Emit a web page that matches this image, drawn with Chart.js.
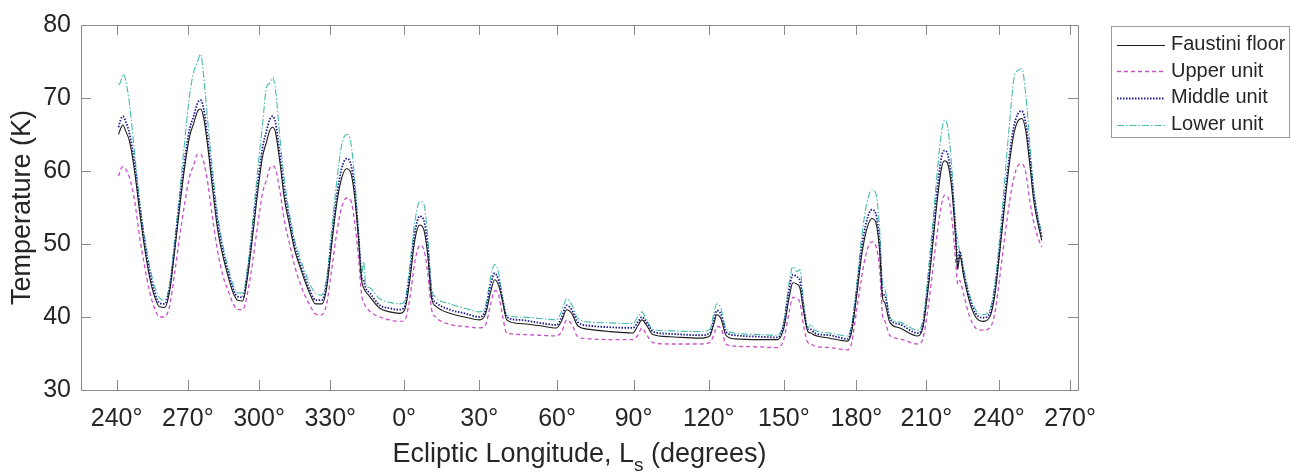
<!DOCTYPE html>
<html>
<head>
<meta charset="utf-8">
<script src="https://cdn.jsdelivr.net/npm/chart.js@4.4.1/dist/chart.umd.min.js"></script>
<style>
html, body { margin: 0; padding: 0; background: #fff; }
#wrap { width: 1298px; height: 474px; position: relative; }
</style>
</head>
<body>
<div id="wrap"><canvas id="tempChart"></canvas></div>
<script>
// time axis in sols since start; ticks mark Ls values (non-linear in time)
const SOLS = [
  1.5, 3.0, 4.8, 6.8, 9.9, 13.6, 17.4, 21.2, 25.0, 28.8,
  32.6, 36.4, 40.2, 44.0, 47.8, 51.6, 55.4, 58.4, 61.4, 63.7,
  66.0, 69.0, 72.8, 76.6, 80.4, 84.2, 88.0, 91.8, 95.6, 99.3,
  103.1, 106.9, 110.7, 113.7, 116.0, 118.3, 120.6, 123.6, 127.4, 131.2,
  135.0, 138.8, 142.6, 146.3, 150.9, 155.5, 159.3, 163.1, 166.9, 170.6,
  174.4, 177.5, 180.5, 183.5, 185.8, 187.3, 188.8, 191.9, 199.5, 207.1,
  214.7, 218.5, 222.3, 226.1, 229.8, 232.9, 235.9, 238.9, 242.0, 252.6,
  264.0, 275.3, 279.9, 283.7, 286.7, 289.7, 292.8, 295.8, 305.7, 320.9,
  333.7, 337.5, 341.3, 345.1, 349.7, 358.8, 374.0, 391.4, 395.2, 398.3,
  402.1, 406.6, 419.5, 442.2, 449.8, 452.8, 455.1, 458.2, 462.0, 468.8,
  487.8, 501.4, 506.0, 509.8, 512.8, 515.9, 518.1, 521.2, 524.2, 526.5,
  529.3, 540.7, 554.4, 557.4, 561.2, 565.0, 568.8, 572.6, 575.6, 578.6,
  580.9, 582.4, 586.2, 593.8, 607.5, 611.3, 615.1, 618.9, 622.6, 625.6,
  627.9, 630.2, 633.3, 636.3, 637.8, 639.3, 642.4, 646.9, 651.4, 656.8,
  662.1, 665.9, 669.7, 673.5, 677.3, 680.3, 683.3, 686.4, 689.4, 692.4,
  695.4, 698.4, 701.5
];
const FAUSTINI_FLOOR = [
  65.0, 65.8, 66.3, 65.5, 64.0, 60.0, 54.5, 49.5, 45.5, 42.8,
  41.4, 41.3, 43.5, 49.0, 55.0, 60.5, 64.8, 66.5, 68.2, 68.5,
  67.3, 63.5, 57.5, 52.0, 48.5, 45.8, 43.5, 42.3, 42.2, 45.5,
  51.0, 57.0, 62.0, 64.0, 65.5, 66.0, 65.2, 61.5, 56.0, 52.5,
  49.2, 47.0, 45.0, 43.3, 41.8, 41.8, 44.0, 50.0, 55.5, 59.0,
  60.3, 59.8, 56.5, 50.5, 45.0, 44.0, 43.5, 42.8, 41.2, 40.7,
  40.5, 41.0, 45.0, 50.5, 52.6, 52.0, 48.5, 42.5, 41.5, 40.5,
  40.0, 39.6, 40.5, 43.5, 45.1, 44.3, 42.0, 39.6, 39.1, 38.8,
  38.5, 39.5, 41.0, 40.5, 38.8, 38.3, 38.0, 37.8, 38.8, 39.6,
  38.8, 37.6, 37.3, 37.1, 37.4, 39.0, 40.3, 39.8, 37.5, 37.0,
  36.9, 36.9, 38.5, 42.5, 44.7, 44.5, 44.0, 40.5, 38.0, 37.8,
  37.5, 37.1, 36.7, 38.0, 43.0, 48.5, 52.0, 53.5, 53.0, 49.0,
  42.5, 42.0, 39.3, 38.5, 37.4, 38.5, 43.5, 50.0, 56.5, 60.5,
  61.4, 61.0, 57.5, 50.5, 46.5, 48.5, 45.5, 42.0, 40.0, 39.4,
  40.0, 43.0, 49.0, 55.5, 61.5, 65.0, 66.8, 67.2, 65.5, 61.0,
  56.0, 53.0, 50.5
];
const UPPER_UNIT = [
  59.3, 60.2, 60.6, 60.3, 59.0, 56.0, 51.0, 47.0, 43.5, 41.2,
  40.0, 40.0, 41.5, 46.0, 51.0, 55.5, 59.3, 60.8, 62.3, 62.3,
  61.3, 58.5, 53.5, 49.0, 45.8, 43.8, 42.0, 41.0, 41.0, 43.3,
  47.5, 52.5, 57.0, 58.8, 60.3, 60.7, 60.2, 57.5, 53.0, 50.0,
  47.0, 44.8, 43.0, 41.7, 40.4, 40.3, 41.8, 46.5, 51.5, 55.0,
  56.3, 56.0, 53.0, 48.0, 43.0, 42.0, 41.5, 40.8, 40.0, 39.6,
  39.4, 39.6, 42.5, 47.5, 49.8, 49.3, 46.0, 41.0, 40.0, 39.0,
  38.7, 38.5, 39.0, 41.8, 43.6, 43.0, 40.0, 37.8, 37.6, 37.5,
  37.4, 38.0, 39.6, 39.0, 37.3, 37.0, 36.9, 36.9, 37.5, 38.5,
  37.5, 36.5, 36.3, 36.3, 36.5, 37.5, 38.7, 38.5, 36.3, 36.0,
  35.9, 35.8, 37.0, 40.5, 42.7, 42.5, 42.0, 38.5, 36.5, 36.3,
  36.0, 35.8, 35.5, 36.5, 41.0, 45.5, 49.0, 50.3, 49.8, 46.5,
  40.0, 39.5, 37.5, 37.0, 36.3, 37.0, 41.0, 46.5, 52.0, 55.5,
  56.7, 56.5, 53.5, 47.5, 44.5, 45.0, 43.0, 40.0, 38.5, 38.2,
  38.5, 40.5, 45.5, 51.0, 56.0, 59.0, 60.7, 61.0, 59.8, 56.0,
  53.0, 51.0, 49.6
];
const MIDDLE_UNIT = [
  66.0, 67.0, 67.5, 66.8, 65.0, 61.0, 55.3, 50.3, 46.2, 43.4,
  41.9, 41.8, 44.0, 49.5, 55.8, 61.5, 65.8, 67.5, 69.3, 69.7,
  68.5, 64.5, 58.5, 53.0, 49.2, 46.4, 44.0, 42.8, 42.7, 46.0,
  51.7, 58.0, 63.2, 65.5, 67.0, 67.5, 66.5, 62.5, 57.0, 53.2,
  49.8, 47.5, 45.5, 43.8, 42.3, 42.3, 44.5, 50.5, 56.5, 60.3,
  61.7, 61.0, 57.5, 51.0, 45.5, 45.0, 44.0, 43.3, 41.6, 41.2,
  41.0, 41.5, 45.8, 51.5, 53.8, 53.3, 49.5, 43.0, 42.0, 41.0,
  40.5, 40.0, 41.0, 44.5, 46.0, 45.0, 42.3, 40.0, 39.6, 39.2,
  38.9, 40.0, 41.6, 41.0, 39.3, 38.8, 38.6, 38.5, 39.3, 40.0,
  39.2, 38.0, 37.7, 37.5, 37.8, 39.5, 40.9, 40.4, 38.0, 37.5,
  37.3, 37.2, 39.0, 43.5, 45.8, 45.5, 45.0, 41.0, 38.3, 38.3,
  37.8, 37.5, 37.0, 38.5, 43.5, 49.5, 53.2, 54.7, 54.2, 50.0,
  43.0, 43.0, 39.8, 39.0, 37.8, 38.8, 44.0, 51.0, 58.0, 62.0,
  62.8, 62.3, 58.5, 51.5, 47.0, 49.0, 46.0, 42.5, 40.5, 39.9,
  40.5, 43.5, 49.5, 56.5, 62.5, 66.0, 67.8, 68.2, 66.5, 62.0,
  57.0, 53.5, 51.0
];
const LOWER_UNIT = [
  71.8, 72.2, 73.3, 72.5, 69.0, 62.5, 56.0, 51.0, 47.0, 44.2,
  42.6, 42.3, 44.5, 50.5, 57.0, 64.0, 70.5, 73.5, 75.0, 76.0,
  73.0, 67.0, 60.0, 54.0, 50.0, 47.0, 44.6, 43.3, 43.3, 46.8,
  53.0, 60.0, 66.5, 71.5, 72.0, 72.8, 71.0, 65.0, 58.5, 54.0,
  50.5, 48.3, 46.3, 44.6, 43.2, 43.0, 45.5, 52.0, 58.5, 63.5,
  65.0, 64.0, 59.0, 51.5, 45.8, 47.6, 44.5, 44.0, 42.5, 42.0,
  41.8, 42.2, 47.0, 53.0, 55.8, 55.5, 51.0, 44.0, 42.7, 41.8,
  41.2, 40.7, 41.7, 45.5, 47.2, 46.0, 42.5, 40.3, 40.0, 39.8,
  39.6, 40.8, 42.5, 41.7, 39.8, 39.3, 39.2, 39.1, 40.0, 40.7,
  39.5, 38.3, 38.1, 38.0, 38.3, 40.5, 41.8, 41.2, 38.5, 37.8,
  37.6, 37.5, 39.5, 44.5, 46.9, 46.2, 46.5, 41.5, 38.5, 39.0,
  38.2, 37.8, 37.4, 39.0, 44.5, 51.0, 55.5, 57.4, 57.0, 52.0,
  44.5, 44.0, 40.0, 39.3, 38.2, 39.5, 45.5, 53.0, 60.5, 65.5,
  67.0, 66.0, 60.5, 52.0, 50.5, 49.0, 46.5, 43.0, 41.0, 40.3,
  41.0, 44.5, 51.0, 59.0, 67.0, 72.5, 73.8, 74.0, 70.5, 64.0,
  57.5, 54.0, 51.5
];
const TICK_SOLS = [0, 54, 108, 162, 218, 275, 334, 392, 449, 506, 561, 614, 669, 723];
const TICK_LABELS = ["240°", "270°", "300°", "330°", "0°", "30°", "60°", "90°", "120°", "150°", "180°", "210°", "240°", "270°"];
const SERIES_NAMES = ["Faustini floor", "Upper unit", "Middle unit", "Lower unit"];

const FONT = "'Liberation Sans', Arial, Helvetica, sans-serif";
const TEXT = "#262626";
const AXIS = "#8a8a8a";

function points(values) {
  return values.map((y, i) => ({ x: SOLS[i], y }));
}

function series(label, values, color, width, dash) {
  return {
    label, data: points(values), borderColor: color, backgroundColor: color,
    borderWidth: width, borderDash: dash, pointRadius: 0, fill: false,
    cubicInterpolationMode: "monotone"
  };
}

const frame = {
  id: "frame",
  afterDraw(chart) {
    const { ctx, chartArea: a, scales: { x, y } } = chart;
    ctx.save();
    ctx.strokeStyle = AXIS;
    ctx.lineWidth = 1;
    ctx.strokeRect(a.left + 0.5, a.top + 0.5, a.right - a.left, a.bottom - a.top);
    ctx.beginPath();
    TICK_SOLS.forEach((v) => {
      const px = Math.round(x.getPixelForValue(v)) + 0.5;
      ctx.moveTo(px, a.bottom); ctx.lineTo(px, a.bottom - 10);
      ctx.moveTo(px, a.top); ctx.lineTo(px, a.top + 10);
    });
    y.ticks.forEach((t) => {
      const py = Math.round(y.getPixelForValue(t.value)) + 0.5;
      ctx.moveTo(a.left, py); ctx.lineTo(a.left + 10, py);
      ctx.moveTo(a.right, py); ctx.lineTo(a.right - 10, py);
    });
    ctx.stroke();

    // x axis title with subscript s
    const big = `27px ${FONT}`, small = `19px ${FONT}`;
    const parts = [["Ecliptic Longitude, L", big, 0], ["s", small, 9], [" (degrees)", big, 0]];
    let total = 0;
    parts.forEach(([t, f]) => { ctx.font = f; total += ctx.measureText(t).width; });
    let cx = (a.left + a.right) / 2 - total / 2;
    ctx.fillStyle = TEXT;
    ctx.textBaseline = "alphabetic";
    ctx.textAlign = "left";
    parts.forEach(([t, f, dy]) => { ctx.font = f; ctx.fillText(t, cx, 462 + dy); cx += ctx.measureText(t).width; });

    // legend box
    const lx = a.right + 33, ly = a.top + 1, lw = 178, lh = 111;
    ctx.fillStyle = "#fff";
    ctx.fillRect(lx, ly, lw, lh);
    ctx.strokeStyle = "#9a9a9a";
    ctx.strokeRect(lx + 0.5, ly + 0.5, lw, lh);
    ctx.font = `20px ${FONT}`;
    ctx.textBaseline = "middle";
    chart.data.datasets.forEach((ds, i) => {
      const ry = ly + 18.5 + i * 26.7;
      ctx.beginPath();
      ctx.strokeStyle = ds.borderColor;
      ctx.lineWidth = ds.borderWidth;
      ctx.setLineDash(ds.borderDash || []);
      ctx.moveTo(lx + 6, Math.round(ry) + 0.5);
      ctx.lineTo(lx + 54, Math.round(ry) + 0.5);
      ctx.stroke();
      ctx.setLineDash([]);
      ctx.fillStyle = TEXT;
      ctx.fillText(ds.label, lx + 60, ry);
    });
    ctx.restore();
  }
};

new Chart(document.querySelector("#tempChart"), {
  type: "line",
  data: {
    datasets: [
      series(SERIES_NAMES[0], FAUSTINI_FLOOR, "#1c1c1c", 1.1, []),
      series(SERIES_NAMES[1], UPPER_UNIT, "#c94fc9", 1.3, [4, 3]),
      series(SERIES_NAMES[2], MIDDLE_UNIT, "#1b1b8f", 1.8, [1.5, 1.5]),
      series(SERIES_NAMES[3], LOWER_UNIT, "#45bcae", 1.1, [7, 2, 1.5, 2])
    ]
  },
  plugins: [frame],
  options: {
    responsive: true,
    maintainAspectRatio: false,
    animation: false,
    layout: { padding: { top: 16, right: 220, left: 0, bottom: 0 } },
    plugins: { legend: { display: false }, tooltip: { enabled: false } },
    scales: {
      x: {
        type: "linear", min: -27, max: 729,
        afterBuildTicks: (scale) => { scale.ticks = TICK_SOLS.map((value) => ({ value })); },
        afterFit: (scale) => { scale.height = 84; },
        grid: { display: false, drawTicks: false },
        border: { display: false },
        ticks: { autoSkip: false, maxRotation: 0, padding: 14, color: TEXT, font: { family: FONT, size: 25 }, callback: (value, index) => TICK_LABELS[index] }
      },
      y: {
        min: 30, max: 80,
        afterFit: (scale) => { scale.width = 81; },
        grid: { display: false, drawTicks: false },
        border: { display: false },
        ticks: { stepSize: 10, padding: 10, color: TEXT, font: { family: FONT, size: 25 } },
        title: { display: true, text: "Temperature (K)", color: TEXT, font: { family: FONT, size: 27 }, padding: { top: 6, bottom: 0 } }
      }
    }
  }
});
</script>
</body>
</html>
